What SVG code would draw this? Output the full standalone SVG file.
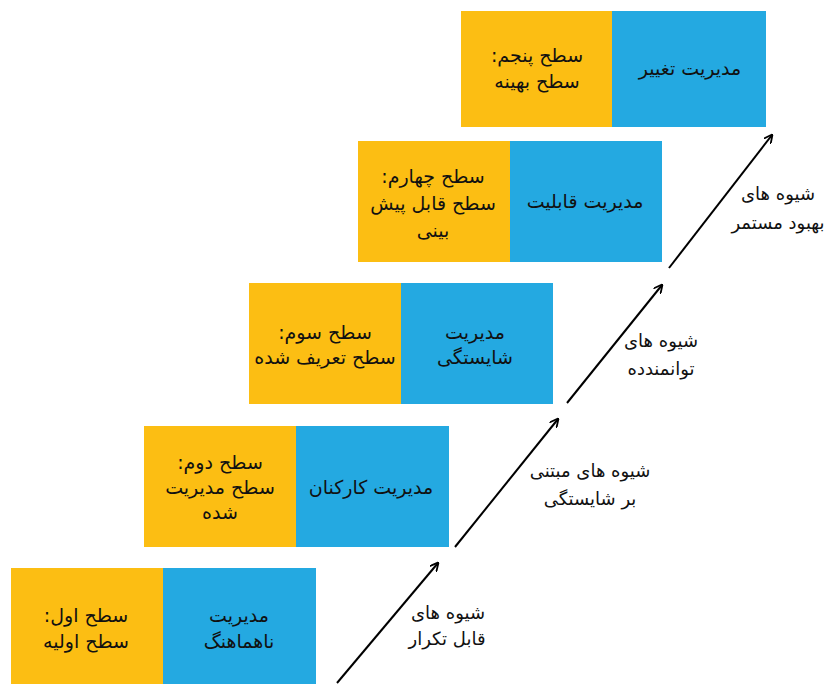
<svg xmlns="http://www.w3.org/2000/svg" width="826" height="684" viewBox="0 0 826 684">
<defs>
<marker id="ah" viewBox="0 0 10 10" refX="9" refY="5" markerWidth="9" markerHeight="9" markerUnits="userSpaceOnUse" orient="auto">
<path d="M0,0 L10,5 L0,10" fill="none" stroke="#000" stroke-width="2"/>
</marker>
<style>
.y{fill:#FCBE13}
.b{fill:#24A9E1}
text{font-family:"DejaVu Sans","Noto Sans",sans-serif;font-size:19px;fill:#111;text-anchor:middle;direction:rtl;unicode-bidi:embed}
.l{font-size:18px}
.c{stroke:#000;stroke-width:2;fill:none;marker-end:url(#ah)}
</style>
</defs>
<rect width="826" height="684" fill="#fff"/>
<g id="level5">
<rect class="y" x="461" y="11" width="151" height="116"/>
<rect class="b" x="612" y="11" width="154" height="116"/>
<text x="537" y="62">سطح پنجم:</text>
<text x="537" y="88">سطح بهینه</text>
<text x="690" y="75">مدیریت تغییر</text>
</g>
<g id="level4">
<rect class="y" x="358" y="141" width="152" height="121"/>
<rect class="b" x="510" y="141" width="152" height="121"/>
<text x="433" y="183">سطح چهارم:</text>
<text x="433" y="210">سطح قابل پیش</text>
<text x="433" y="237">بینی</text>
<text x="585" y="208">مدیریت قابلیت</text>
</g>
<g id="level3">
<rect class="y" x="249" y="283" width="152" height="121"/>
<rect class="b" x="401" y="283" width="152" height="121"/>
<text x="325" y="339">سطح سوم:</text>
<text x="325" y="364">سطح تعریف شده</text>
<text x="475" y="339">مدیریت</text>
<text x="475" y="364">شایستگی</text>
</g>
<g id="level2">
<rect class="y" x="144" y="426" width="152" height="121"/>
<rect class="b" x="296" y="426" width="153" height="121"/>
<text x="220" y="469">سطح دوم:</text>
<text x="220" y="494">سطح مدیریت</text>
<text x="220" y="519">شده</text>
<text x="371" y="494">مدیریت کارکنان</text>
</g>
<g id="level1">
<rect class="y" x="11" y="568" width="152" height="116"/>
<rect class="b" x="163" y="568" width="153" height="116"/>
<text x="86" y="622">سطح اول:</text>
<text x="86" y="648">سطح اولیه</text>
<text x="239" y="622">مدیریت</text>
<text x="239" y="648">ناهماهنگ</text>
</g>
<g id="connectors">
<line class="c" x1="337" y1="683" x2="438" y2="563"/>
<line class="c" x1="455" y1="547" x2="558" y2="419"/>
<line class="c" x1="567" y1="403" x2="662" y2="285"/>
<line class="c" x1="669" y1="268" x2="772" y2="135"/>
</g>
<g id="labels">
<text class="l" x="448" y="619">شیوه های</text>
<text class="l" x="447" y="645">قابل تکرار</text>
<text class="l" x="590" y="477">شیوه های مبتنی</text>
<text class="l" x="590" y="505">بر شایستگی</text>
<text class="l" x="661" y="347">شیوه های</text>
<text class="l" x="661" y="375">توانمندده</text>
<text class="l" x="778" y="200">شیوه های</text>
<text class="l" x="778" y="229">بهبود مستمر</text>
</g>
</svg>
